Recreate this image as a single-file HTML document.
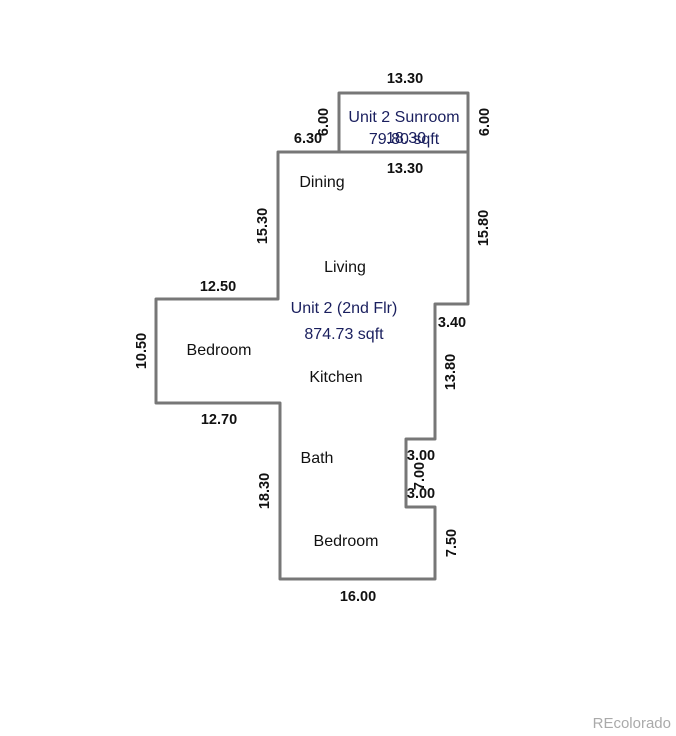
<!DOCTYPE html>
<html><head><style>
body{margin:0;background:#fff;}
svg{display:block;}
text{font-family:"Liberation Sans",sans-serif;font-size:15px;}
.d{font-weight:bold;fill:#111;font-size:14.5px;}
.r{fill:#111;font-size:16px;}
.u{fill:#1a1f5e;font-size:16px;}
</style></head><body>
<svg width="676" height="736" viewBox="0 0 676 736">
<g fill="none" stroke="#777" stroke-width="3" stroke-linejoin="round">
<polyline points="339,152 339,93 468,93 468,152"/>
<polygon points="278,152 468,152 468,304 435,304 435,439 406,439 406,507 435,507 435,579 280,579 280,403 156,403 156,299 278,299"/>
</g>
<text class="d" x="405" y="83" text-anchor="middle">13.30</text>
<text class="d" x="405" y="173" text-anchor="middle">13.30</text>
<text class="d" x="308" y="143" text-anchor="middle">6.30</text>
<text class="d" x="328" y="122" text-anchor="middle" transform="rotate(-90 328 122)">6.00</text>
<text class="d" x="489" y="122" text-anchor="middle" transform="rotate(-90 489 122)">6.00</text>
<text class="u" x="404" y="122" text-anchor="middle">Unit 2 Sunroom</text>
<text class="u" x="404" y="144" text-anchor="middle">79.80 sqft</text>
<text class="u" x="406" y="143" text-anchor="middle" font-size="15">18.30</text>
<text class="d" x="267" y="226" text-anchor="middle" transform="rotate(-90 267 226)">15.30</text>
<text class="d" x="488" y="228" text-anchor="middle" transform="rotate(-90 488 228)">15.80</text>
<text class="d" x="218" y="291" text-anchor="middle">12.50</text>
<text class="d" x="452" y="327" text-anchor="middle">3.40</text>
<text class="d" x="146" y="351" text-anchor="middle" transform="rotate(-90 146 351)">10.50</text>
<text class="d" x="455" y="372" text-anchor="middle" transform="rotate(-90 455 372)">13.80</text>
<text class="d" x="219" y="424" text-anchor="middle">12.70</text>
<text class="d" x="421" y="460" text-anchor="middle">3.00</text>
<text class="d" x="421" y="498" text-anchor="middle">3.00</text>
<text class="d" x="424" y="476" text-anchor="middle" transform="rotate(-90 424 476)">7.00</text>
<text class="d" x="269" y="491" text-anchor="middle" transform="rotate(-90 269 491)">18.30</text>
<text class="d" x="456" y="543" text-anchor="middle" transform="rotate(-90 456 543)">7.50</text>
<text class="d" x="358" y="601" text-anchor="middle">16.00</text>
<text class="r" x="322" y="187" text-anchor="middle">Dining</text>
<text class="r" x="345" y="272" text-anchor="middle">Living</text>
<text class="u" x="344" y="313" text-anchor="middle">Unit 2 (2nd Flr)</text>
<text class="u" x="344" y="339" text-anchor="middle">874.73 sqft</text>
<text class="r" x="219" y="355" text-anchor="middle">Bedroom</text>
<text class="r" x="336" y="382" text-anchor="middle">Kitchen</text>
<text class="r" x="317" y="463" text-anchor="middle">Bath</text>
<text class="r" x="346" y="546" text-anchor="middle">Bedroom</text>
<text x="671" y="728" text-anchor="end" fill="#aaa" font-size="13">REcolorado</text>
</svg>
</body></html>
